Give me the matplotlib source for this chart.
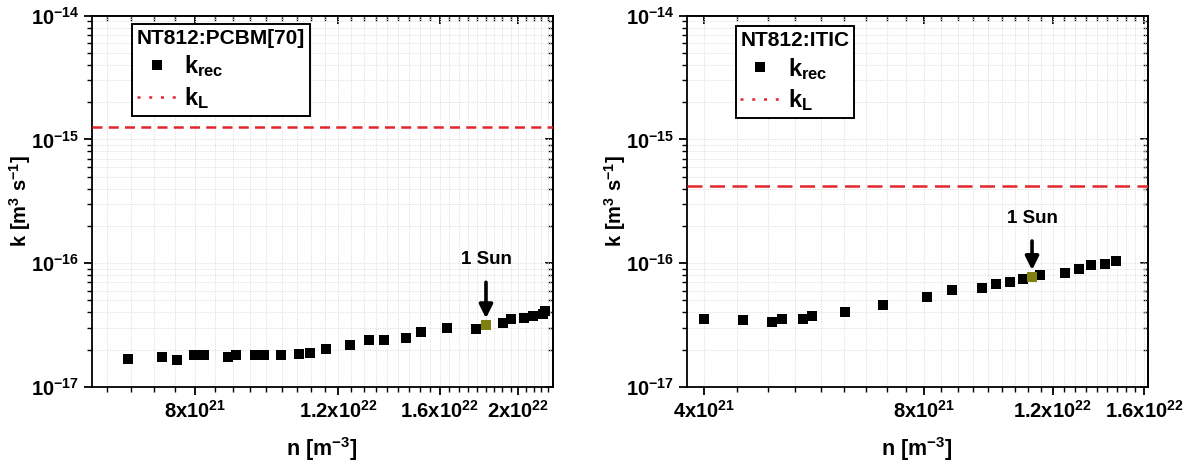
import numpy as np
import matplotlib
matplotlib.use("Agg")
import matplotlib.pyplot as plt
from matplotlib.ticker import FixedLocator, FixedFormatter, NullFormatter, LogLocator
from matplotlib.lines import Line2D

plt.rcParams['font.family'] = ['Liberation Sans', 'DejaVu Sans']
plt.rcParams['font.weight'] = 'bold'
plt.rcParams['mathtext.fontset'] = 'custom'
plt.rcParams['mathtext.rm'] = 'Liberation Sans:bold'
plt.rcParams['mathtext.bf'] = 'Liberation Sans:bold'
plt.rcParams['mathtext.it'] = 'Liberation Sans:bold:italic'
plt.rcParams['mathtext.sf'] = 'Liberation Sans:bold'

# ---------------- data ----------------
pcbm_title = "NT812:PCBM[70]"
pcbm_n = [6.60e21, 7.27e21, 7.59e21, 7.97e21, 8.19e21, 8.78e21, 8.97e21, 9.46e21,
          9.71e21, 1.019e22, 1.072e22, 1.106e22, 1.159e22, 1.240e22, 1.308e22,
          1.366e22, 1.452e22, 1.517e22, 1.633e22, 1.771e22, 1.824e22, 1.914e22,
          1.957e22, 2.034e22, 2.087e22, 2.143e22, 2.157e22]
pcbm_k = [1.69e-17, 1.75e-17, 1.65e-17, 1.80e-17, 1.80e-17, 1.75e-17, 1.82e-17, 1.80e-17,
          1.82e-17, 1.80e-17, 1.85e-17, 1.89e-17, 2.01e-17, 2.18e-17, 2.41e-17,
          2.39e-17, 2.50e-17, 2.76e-17, 2.99e-17, 2.94e-17, 3.16e-17, 3.30e-17,
          3.55e-17, 3.62e-17, 3.76e-17, 3.90e-17, 4.10e-17]
pcbm_sun_index = 20
pcbm_kL = 1.27e-15
pcbm_xlim = (5.96e21, 2.206e22)
pcbm_xticks = [8e21, 1.2e22, 1.6e22, 2e22]
pcbm_xticklabels = [r"$\mathbf{8x10^{21}}$", r"$\mathbf{1.2x10^{22}}$",
                    r"$\mathbf{1.6x10^{22}}$", r"$\mathbf{2x10^{22}}$"]

itic_title = "NT812:ITIC"
itic_n = [4.00e21, 4.53e21, 4.96e21, 5.11e21, 5.46e21, 5.62e21, 6.23e21, 7.03e21,
          8.07e21, 8.74e21, 9.60e21, 1.003e22, 1.048e22, 1.093e22, 1.124e22,
          1.154e22, 1.248e22, 1.303e22, 1.353e22, 1.416e22, 1.466e22]
itic_k = [3.55e-17, 3.49e-17, 3.34e-17, 3.55e-17, 3.55e-17, 3.74e-17, 4.05e-17, 4.61e-17,
          5.32e-17, 6.06e-17, 6.32e-17, 6.77e-17, 7.03e-17, 7.39e-17, 7.75e-17,
          8.00e-17, 8.41e-17, 8.95e-17, 9.69e-17, 9.87e-17, 1.04e-16]
itic_sun_index = 14
itic_kL = 4.24e-16
itic_xlim = (3.788e21, 1.618e22)
itic_xticks = [4e21, 8e21, 1.2e22, 1.6e22]
itic_xticklabels = [r"$\mathbf{4x10^{21}}$", r"$\mathbf{8x10^{21}}$",
                    r"$\mathbf{1.2x10^{22}}$", r"$\mathbf{1.6x10^{22}}$"]

ylim = (1e-17, 1e-14)
yticks = [1e-17, 1e-16, 1e-15, 1e-14]
yticklabels = [r"$\mathbf{10^{-17}}$", r"$\mathbf{10^{-16}}$",
               r"$\mathbf{10^{-15}}$", r"$\mathbf{10^{-14}}$"]

RED = '#e3262c'
OLIVE = '#7f7f12'

fig = plt.figure(figsize=(11.93, 4.63), dpi=100)


def minor_positions(xlim, step):
    start = np.floor(xlim[0] / step) * step
    vals = np.arange(start, xlim[1] + step, step)
    return [v for v in vals if xlim[0] <= v <= xlim[1]]


def panel(rect, n, k, sun_idx, kL, xlim, xticks, xticklabels, title,
          leg_anchor, kL_dashes, sun_offset):
    ax = fig.add_axes(rect)
    ax.set_xscale('log')
    ax.set_yscale('log')
    ax.set_xlim(*xlim)
    ax.set_ylim(*ylim)

    xminor = minor_positions(xlim, 4e21 / 9)
    ax.xaxis.set_major_locator(FixedLocator(xticks))
    ax.xaxis.set_major_formatter(FixedFormatter(xticklabels))
    ax.xaxis.set_minor_locator(FixedLocator(xminor))
    ax.xaxis.set_minor_formatter(NullFormatter())
    ax.yaxis.set_major_locator(FixedLocator(yticks))
    ax.yaxis.set_major_formatter(FixedFormatter(yticklabels))
    ax.yaxis.set_minor_locator(LogLocator(base=10, subs=np.arange(2, 10)))
    ax.yaxis.set_minor_formatter(NullFormatter())

    ax.grid(True, which='both', color='#dcdcdc', linestyle=(0, (1.5, 1.5)), lw=0.6)
    ax.set_axisbelow(True)

    ax.tick_params(which='major', direction='out', length=6, width=1.3,
                   labelsize=14.5, pad=3)
    ax.tick_params(which='minor', direction='out', length=3.5, width=1.0)
    for s in ax.spines.values():
        s.set_linewidth(1.3)

    secx = ax.secondary_xaxis('top')
    secx.xaxis.set_major_locator(FixedLocator(xticks))
    secx.xaxis.set_minor_locator(FixedLocator(xminor))
    secx.xaxis.set_major_formatter(NullFormatter())
    secx.xaxis.set_minor_formatter(NullFormatter())
    secx.tick_params(which='major', direction='in', length=6, width=1.3)
    secx.tick_params(which='minor', direction='in', length=3.5, width=1.0)
    secx.spines['top'].set_linewidth(1.3)
    secy = ax.secondary_yaxis('right')
    secy.yaxis.set_major_locator(FixedLocator(yticks))
    secy.yaxis.set_minor_locator(LogLocator(base=10, subs=np.arange(2, 10)))
    secy.yaxis.set_major_formatter(NullFormatter())
    secy.yaxis.set_minor_formatter(NullFormatter())
    secy.tick_params(which='major', direction='in', length=6, width=1.3)
    secy.tick_params(which='minor', direction='in', length=3.5, width=1.0)
    secy.spines['right'].set_linewidth(1.3)

    ax.axhline(kL, color=RED, lw=1.8, linestyle=(0, kL_dashes), zorder=3)

    ax.plot(n, k, linestyle='none', marker='s', ms=7, color='black',
            markeredgewidth=0, zorder=4)
    ax.plot([n[sun_idx]], [k[sun_idx]], linestyle='none', marker='s', ms=7,
            color=OLIVE, markeredgewidth=0, zorder=5)

    ax.annotate('1 Sun', xy=(n[sun_idx], k[sun_idx]), xytext=(0, sun_offset),
                textcoords='offset points', ha='center', va='center',
                fontsize=13.5, fontweight='bold',
                arrowprops=dict(arrowstyle='-|>', color='black', lw=2.6,
                                mutation_scale=20, shrinkA=8, shrinkB=5),
                zorder=6)

    ax.set_xlabel(r"$\mathbf{n\ [m^{-3}]}$", fontsize=15.5, labelpad=10)
    ax.set_ylabel(r"$\mathbf{k\ [m^{3}\ s^{-1}]}$", fontsize=14.5)
    ax.yaxis.set_label_coords(-0.128, 0.5)

    h_rec = Line2D([], [], linestyle='none', marker='s', ms=7, color='black',
                   markeredgewidth=0)
    h_L = Line2D([], [], color=RED, lw=1.8, linestyle=(0, (1.2, 3.5)))
    leg = ax.legend([h_rec, h_L], [r"$\mathbf{k_{rec}}$", r"$\mathbf{k_{L}}$"],
                    title=title, loc='upper left', bbox_to_anchor=leg_anchor,
                    borderaxespad=0, fancybox=False, framealpha=1,
                    edgecolor='black', fontsize=17, handlelength=1.7,
                    handletextpad=0.3, labelspacing=0.25, borderpad=0.2,
                    title_fontproperties={'size': 15, 'weight': 'bold'})
    leg.get_frame().set_linewidth(1.4)
    leg._legend_box.align = 'left'
    leg.set_zorder(7)
    return ax


W, H = 1193.0, 463.0
panel([91.7 / W, 1 - 387 / H, (553 - 91.7) / W, (387 - 15.7) / H],
      pcbm_n, pcbm_k, pcbm_sun_index, pcbm_kL, pcbm_xlim, pcbm_xticks,
      pcbm_xticklabels, pcbm_title, (0.087, 0.978), (4, 2.5), 47)
panel([686.7 / W, 1 - 387 / H, (1147.7 - 686.7) / W, (387 - 15.7) / H],
      itic_n, itic_k, itic_sun_index, itic_kL, itic_xlim, itic_xticks,
      itic_xticklabels, itic_title, (0.106, 0.972), (6, 3), 42)

fig.savefig('out.png', dpi=100)
